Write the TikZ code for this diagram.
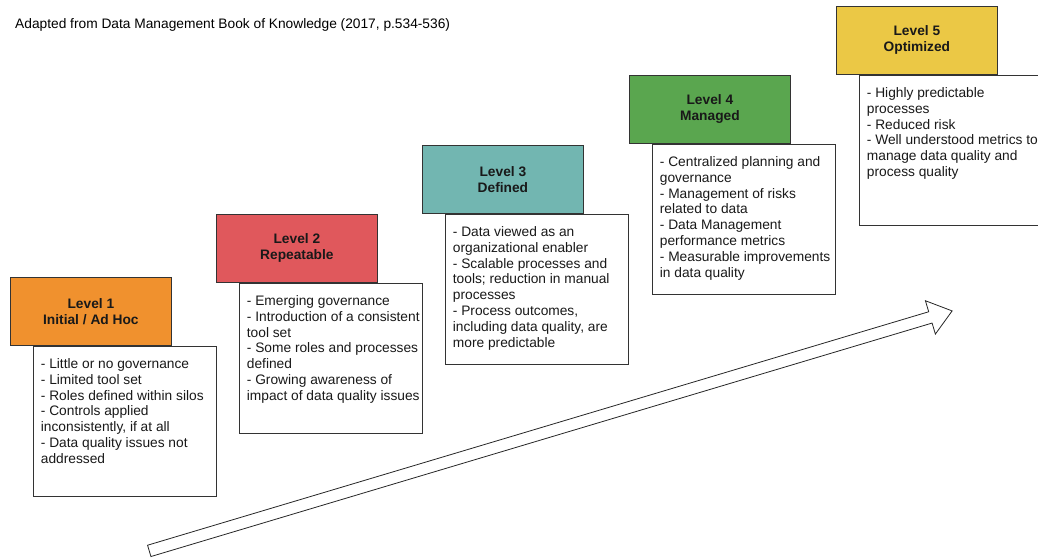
\documentclass[tikz,border=0pt]{standalone}
\usepackage{fontspec}
\setmainfont{Liberation Sans}
\usepackage{xcolor}
\usetikzlibrary{shapes.arrows}
\definecolor{lvlone}{HTML}{F0912E}
\definecolor{lvltwo}{HTML}{E0585C}
\definecolor{lvlthree}{HTML}{72B6B1}
\definecolor{lvlfour}{HTML}{5AA64F}
\definecolor{lvlfive}{HTML}{EBC845}
\definecolor{boxline}{HTML}{333333}
\tikzset{
    level-head/.style = {draw=boxline, line width=0.8bp, rectangle, minimum width=161bp, minimum height=68bp, align=center, font=\fontsize{13.8}{16}\selectfont\bfseries, text=black!90, anchor=north west},
    level-body/.style = {draw=boxline, fill=white, line width=0.8bp, rectangle, inner xsep=1.5bp, inner ysep=12bp, anchor=north west, text=black!90},
}

\begin{document}
\begin{tikzpicture}[x=1bp, y=-1bp, font=\fontsize{13.8}{16}\selectfont]
\useasboundingbox (0,0) rectangle (1038,558);
\node[anchor=base west, inner sep=0pt] (source) at (15,29) {Adapted from Data Management Book of Knowledge (2017, p.534-536)};

% growth arrow
\node[single arrow, draw=black!85, fill=white, line width=0.8bp, minimum height=838bp, inner xsep=0pt, inner ysep=5.5bp,
      single arrow head extend=11.5bp, single arrow tip angle=75, rotate=16.64] (trend) at (547,432) {};

% level 1
\node[level-head, fill=lvlone] (head1) at (10,277) {Level 1\\Initial / Ad Hoc};
\node[level-body] (body1) at ([xshift=23bp] head1.south west) {\begin{minipage}[t][126bp][t]{180bp}\raggedright\leftskip=6bp
    - Little or no governance\\
    - Limited tool set\\
    - Roles defined within silos\\
    - Controls applied\\
    inconsistently, if at all\\
    - Data quality issues not\\
    addressed
\end{minipage}};

% level 2
\node[level-head, fill=lvltwo] (head2) at (216,214) {Level 2\\Repeatable};
\node[level-body] (body2) at ([xshift=23bp] head2.south west) {\begin{minipage}[t][126bp][t]{180bp}\raggedright\leftskip=6bp
    - Emerging governance\\
    - Introduction of a consistent\\
    tool set\\
    - Some roles and processes\\
    defined\\
    - Growing awareness of\\
    impact of data quality issues
\end{minipage}};

% level 3
\node[level-head, fill=lvlthree] (head3) at (422,145) {Level 3\\Defined};
\node[level-body] (body3) at ([xshift=23bp] head3.south west) {\begin{minipage}[t][126bp][t]{180bp}\raggedright\leftskip=6bp
    - Data viewed as an\\
    organizational enabler\\
    - Scalable processes and\\
    tools; reduction in manual\\
    processes\\
    - Process outcomes,\\
    including data quality, are\\
    more predictable
\end{minipage}};

% level 4
\node[level-head, fill=lvlfour] (head4) at (629,75) {Level 4\\Managed};
\node[level-body] (body4) at ([xshift=23bp] head4.south west) {\begin{minipage}[t][126bp][t]{180bp}\raggedright\leftskip=6bp
    - Centralized planning and\\
    governance\\
    - Management of risks\\
    related to data\\
    - Data Management\\
    performance metrics\\
    - Measurable improvements\\
    in data quality
\end{minipage}};

% level 5
\node[level-head, fill=lvlfive] (head5) at (836,6) {Level 5\\Optimized};
\node[level-body] (body5) at ([xshift=23bp] head5.south west) {\begin{minipage}[t][126bp][t]{180bp}\raggedright\leftskip=6bp
    - Highly predictable\\
    processes\\
    - Reduced risk\\
    - Well understood metrics to\\
    manage data quality and\\
    process quality
\end{minipage}};
\end{tikzpicture}
\end{document}
